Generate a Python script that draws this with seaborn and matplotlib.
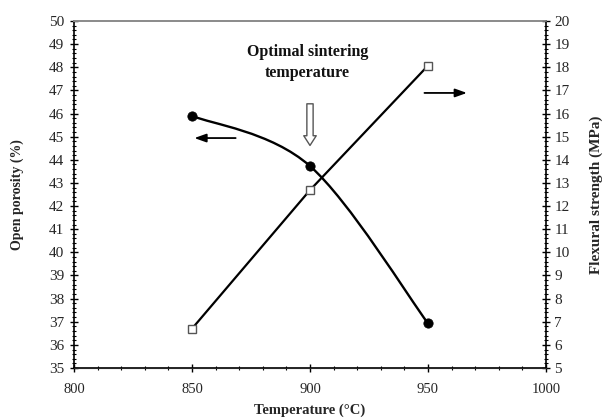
import numpy as np
import pandas as pd
import matplotlib
matplotlib.use("Agg")
import matplotlib.pyplot as plt
from matplotlib.path import Path
from matplotlib.patches import PathPatch
from matplotlib.ticker import MultipleLocator
import seaborn as sns

# Sintering temperature (°C)
temperature = [850, 900, 950]
# Open porosity (%)
porosity = [45.9, 43.73, 36.93]
# Flexural strength (MPa)
flexural = [6.70, 12.69, 18.07]

x_ticks = [800, 850, 900, 950, 1000]
left_ticks = list(range(35, 51))
right_ticks = list(range(5, 21))

sns.set_style("ticks")
plt.rcParams["font.family"] = ["Liberation Serif", "DejaVu Serif"]

df = pd.DataFrame({"temperature": temperature, "porosity": porosity, "flexural": flexural})

fig = plt.figure(figsize=(6.07, 4.19), dpi=100)
ax = fig.add_axes([0.1219, 0.1217, 0.7776, 0.8282])
ax2 = ax.twinx()

# Smoothed porosity curve (cardinal Bezier through the data points)
xs = np.array(temperature, dtype=float)
ys = np.array(porosity, dtype=float)
n = len(xs)
verts = [(xs[0], ys[0])]
codes = [Path.MOVETO]
for i in range(n - 1):
    xp, yp = (xs[i - 1], ys[i - 1]) if i > 0 else (xs[i], ys[i])
    xn, yn = (xs[i + 2], ys[i + 2]) if i + 2 < n else (xs[i + 1], ys[i + 1])
    c1 = (xs[i] + (xs[i + 1] - xp) / 6, ys[i] + (ys[i + 1] - yp) / 6)
    c2 = (xs[i + 1] - (xn - xs[i]) / 6, ys[i + 1] - (yn - ys[i]) / 6)
    verts += [c1, c2, (xs[i + 1], ys[i + 1])]
    codes += [Path.CURVE4] * 3
ax.add_patch(PathPatch(Path(verts, codes), facecolor="none", edgecolor="black", lw=1.7, zorder=3))
sns.scatterplot(data=df, x="temperature", y="porosity", ax=ax, color="black",
                s=45, marker="o", edgecolor="black", zorder=4, legend=False)

# Flexural strength on the secondary axis
sns.lineplot(data=df, x="temperature", y="flexural", ax=ax2, color="black", lw=1.6,
             marker="s", markersize=6, markerfacecolor="white", markeredgecolor="#555555",
             markeredgewidth=1.0, legend=False, zorder=3)

ax.set_xlim(800, 1000)
ax.set_ylim(35, 50)
ax2.set_ylim(5, 20)
ax.set_xticks(x_ticks)
ax.set_yticks(left_ticks)
ax2.set_yticks(right_ticks)
ax.xaxis.set_minor_locator(MultipleLocator(10))
ax.yaxis.set_minor_locator(MultipleLocator(0.2))
ax2.yaxis.set_minor_locator(MultipleLocator(0.2))

ax.set_xticklabels([str(v) for v in x_ticks], fontsize=10.5)
ax.set_yticklabels([str(v) for v in left_ticks], fontsize=11)
ax2.set_yticklabels([str(v) for v in right_ticks], fontsize=11)

for a in (ax, ax2):
    a.tick_params(which="major", direction="inout", length=6, width=1.0, color="black", pad=3)
    a.tick_params(which="minor", direction="inout", length=3, width=0.8, color="black")
ax.tick_params(axis="x", pad=8)
ax.tick_params(axis="y", pad=4)
ax2.tick_params(axis="y", pad=3)

for sp in ("left", "bottom"):
    ax.spines[sp].set_color("black")
    ax.spines[sp].set_linewidth(1.2)
ax2.spines["right"].set_color("black")
ax2.spines["right"].set_linewidth(1.2)
ax2.spines["right"].set_visible(True)
ax.spines["top"].set_visible(True)
ax.spines["top"].set_color("#8a8a8a")
ax.spines["top"].set_linewidth(1.2)
ax2.spines["top"].set_color("#8a8a8a")
ax2.spines["top"].set_linewidth(1.2)
ax.spines["right"].set_visible(False)
ax2.spines["left"].set_visible(False)

ax.set_xlabel("Temperature (°C)", fontsize=10.5, fontweight="bold", labelpad=5)
ax.set_ylabel("Open porosity (%)", fontsize=10, fontweight="bold", labelpad=18)
ax2.set_ylabel("Flexural strength (MPa)", fontsize=11, fontweight="bold", labelpad=14, rotation=90)

# Annotations
ax.text(899, 48.2, "Optimal sintering\ntemperature", ha="center", va="center",
        fontsize=11.5, fontweight="bold", linespacing=1.4, color="#111111")
ax.annotate("", xy=(900, 44.62), xytext=(900, 46.42),
            arrowprops=dict(arrowstyle="simple,head_width=0.9,head_length=0.7,tail_width=0.45",
                            facecolor="white", edgecolor="#555555", lw=1.0, shrinkA=0, shrinkB=0))
ax.annotate("", xy=(851.0, 44.94), xytext=(868.5, 44.94),
            arrowprops=dict(arrowstyle="-|>,head_width=0.25,head_length=0.7",
                            color="black", lw=1.3, shrinkA=0, shrinkB=0))
ax.annotate("", xy=(966.5, 46.89), xytext=(948.5, 46.89),
            arrowprops=dict(arrowstyle="-|>,head_width=0.25,head_length=0.7",
                            color="black", lw=1.3, shrinkA=0, shrinkB=0))

fig.savefig("out.png", dpi=100)
